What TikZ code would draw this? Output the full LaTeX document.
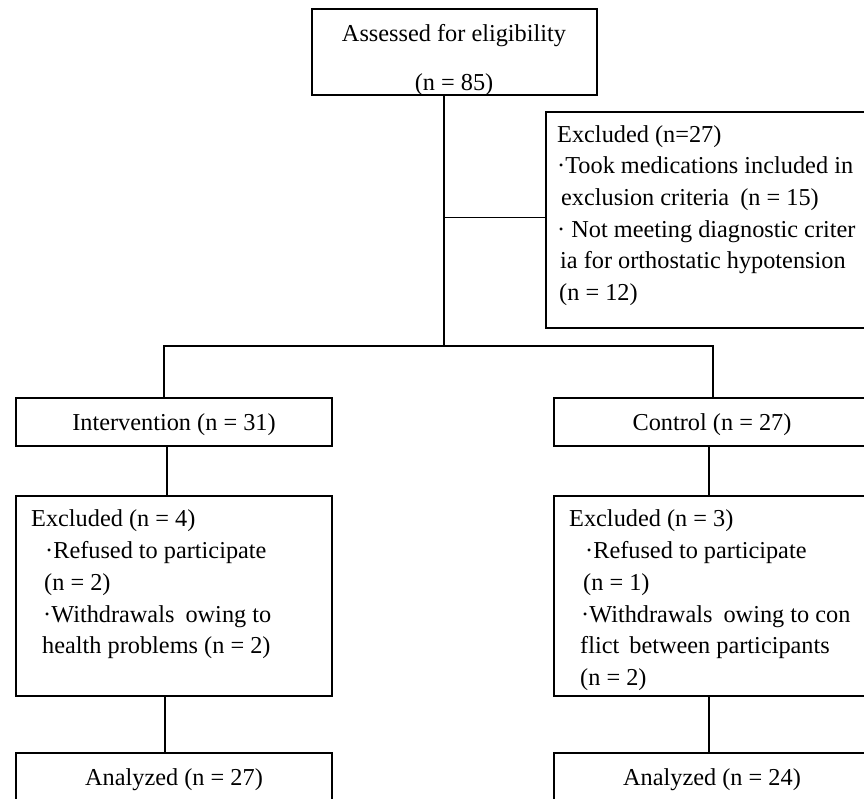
\documentclass[tikz,border=0pt]{standalone}
\usepackage{fontspec}
\setmainfont{Liberation Serif}
\begin{document}
\begin{tikzpicture}[x=1pt,y=-1pt,
  box/.style={draw=black,line width=1.7pt,rectangle,inner sep=0pt},
  lbl/.style={font=\fontsize{24.3}{31.7}\selectfont,inner sep=0pt},
  ctr/.style={lbl,text height=21pt,text depth=5pt},
  txt/.style={lbl,align=left,anchor=north west},
  conn/.style={line width=1.6pt},
  thinconn/.style={line width=1pt}]
\useasboundingbox (0,0) rectangle (864,799);
\fill[white] (0,0) rectangle (864,799);
\clip (0,0) rectangle (864,799);

% top box
\node[box,minimum width=285pt,minimum height=86pt] (top) at (454.5,52) {};
\node[lbl,align=center,anchor=north] (topT) at (454,21.7) {\rule{0pt}{20pt}Assessed for eligibility\\[16.6pt](n = 85)};

% excluded (top)
\node[box,minimum width=344pt,minimum height=216pt] (ex) at (718,220) {};
\node[txt] (exT) at (557,122) {\rule{0pt}{20pt}Excluded (n=27)\\·Took medications included in\\\hspace*{4pt}exclusion criteria\hspace{5pt} (n = 15)\\· Not meeting diagnostic criter\\\hspace*{3pt}ia for orthostatic hypotension\\\hspace*{2pt}(n = 12)};

% arms
\node[box,ctr,minimum width=316pt,minimum height=48pt] (int) at (174,422) {Intervention (n = 31)};
\node[box,ctr,minimum width=316pt,minimum height=48pt] (ctl) at (712,422) {Control (n = 27)};

% excluded left
\node[box,minimum width=316pt,minimum height=200pt] (exl) at (174,596) {};
\node[txt] (exlT) at (31,506.7) {\rule{0pt}{20pt}Excluded (n = 4)\\\hspace*{14pt}·Refused to participate\\\hspace*{13pt}(n = 2)\\\hspace*{12pt}·Withdrawals\hspace{5pt} owing to\\\hspace*{11pt}health problems (n = 2)};

% excluded right
\node[box,minimum width=316pt,minimum height=200pt] (exr) at (712,596) {};
\node[txt] (exrT) at (569,506.7) {\rule{0pt}{20pt}Excluded (n = 3)\\\hspace*{16pt}·Refused to participate\\\hspace*{14pt}(n = 1)\\\hspace*{12pt}·Withdrawals\hspace{5pt} owing to con\\\hspace*{11pt}flict\hspace{4pt} between participants\\\hspace*{11pt}(n = 2)};

% analyzed
\node[box,ctr,minimum width=316pt,minimum height=48pt] (anl) at (174,777) {Analyzed (n = 27)};
\node[box,ctr,minimum width=316pt,minimum height=48pt] (anr) at (712,777) {Analyzed (n = 24)};

% connectors
\coordinate (j) at (444,346);
\coordinate (bl) at (164,346);
\coordinate (br) at (713,346);
\coordinate (la) at (167,470);
\coordinate (lb) at (165,725);
\coordinate (ra) at (709,470);
\draw[conn] (top.south -| j) -- (j);
\draw[thinconn] ([yshift=2pt]ex.west -| j) -- ([yshift=2pt]ex.west);
\draw[conn] (int.north -| bl) |- (br) -- (ctl.north -| br);
\draw[conn] (int.south -| la) -- (exl.north -| la);
\draw[conn] (exl.south -| lb) -- (anl.north -| lb);
\draw[conn] (ctl.south -| ra) -- (exr.north -| ra);
\draw[conn] (exr.south -| ra) -- (anr.north -| ra);
\end{tikzpicture}
\end{document}
